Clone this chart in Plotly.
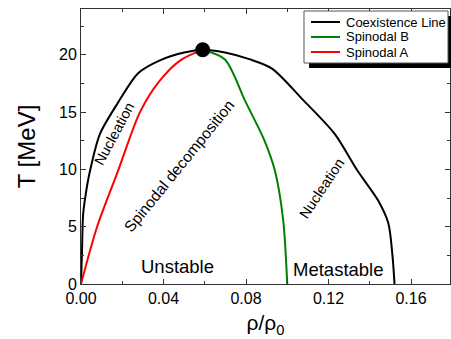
import plotly.graph_objects as go

# Coexistence line
coex_x = [0.0, 0.0005, 0.001, 0.002, 0.0044, 0.0092, 0.0175, 0.0277, 0.038, 0.050, 0.059,
          0.0698, 0.082, 0.0926, 0.108, 0.123, 0.134, 0.144, 0.149, 0.151, 0.152]
coex_T = [0.0, 3.0, 6.0, 7.5, 9.9, 13.1, 15.7, 18.4, 19.5, 20.2, 20.45,
          20.2, 19.6, 18.8, 16.0, 13.1, 9.9, 7.3, 5.3, 2.5, 0.0]
# Spinodal B
spB_x = [0.059, 0.0698, 0.0795, 0.089, 0.094, 0.098, 0.100]
spB_T = [20.45, 19.6, 16.0, 12.5, 9.9, 5.6, 0.0]
# Spinodal A
spA_x = [0.0, 0.0078, 0.018, 0.0286, 0.038, 0.048, 0.059]
spA_T = [0.0, 5.0, 9.9, 15.0, 17.7, 19.5, 20.45]
# Critical point
crit_x = [0.059]
crit_T = [20.45]

series_names = ["Coexistence Line", "Spinodal B", "Spinodal A"]
series_colors = ["black", "#008000", "red"]

FONT = "Liberation Sans, Arial, sans-serif"

fig = go.Figure()
for xs, ys, nm, col in zip([coex_x, spB_x, spA_x], [coex_T, spB_T, spA_T],
                           series_names, series_colors):
    fig.add_trace(go.Scatter(x=xs, y=ys, mode="lines", name=nm, showlegend=False,
                             line=dict(color=col, width=2, shape="spline", smoothing=0.8)))
fig.add_trace(go.Scatter(x=crit_x, y=crit_T, mode="markers", showlegend=False,
                         marker=dict(color="black", size=15)))

annos = [
    dict(x=0.0160, y=13.1, text="Nucleation", textangle=-62, size=14.5),
    dict(x=0.0478, y=10.3, text="Spinodal decomposition", textangle=-51, size=15.5),
    dict(x=0.1168, y=8.4, text="Nucleation", textangle=-56.5, size=14.5),
    dict(x=0.0470, y=1.5, text="Unstable", textangle=0, size=18.5),
    dict(x=0.1246, y=1.3, text="Metastable", textangle=0, size=18.5),
]
for a in annos:
    fig.add_annotation(x=a["x"], y=a["y"], text=a["text"], textangle=a["textangle"],
                       showarrow=False, font=dict(family=FONT, size=a["size"], color="black"))

# legend drawn manually (box with drop shadow, as in the reference)
fig.add_shape(type="rect", xref="paper", yref="paper", x0=0.618, x1=1.01, y0=0.7855, y1=0.9745,
              fillcolor="black", line=dict(width=0), layer="above")
fig.add_shape(type="rect", xref="paper", yref="paper", x0=0.6043, x1=0.9946, y0=0.8036, y1=0.9927,
              fillcolor="white", line=dict(color="#555", width=1), layer="above")
row_y = [0.9527, 0.8982, 0.8436]
for ry, nm, col in zip(row_y, series_names, series_colors):
    fig.add_shape(type="line", xref="paper", yref="paper", x0=0.6233, x1=0.7019, y0=ry, y1=ry,
                  line=dict(color=col, width=2), layer="above")
    fig.add_annotation(xref="paper", yref="paper", x=0.7127, y=ry, text=nm, showarrow=False,
                       xanchor="left", yanchor="middle",
                       font=dict(family=FONT, size=13, color="black"))

axis_common = dict(showline=True, linecolor="#333", linewidth=1, mirror="ticks",
                   ticks="inside", ticklen=5, tickcolor="#333", showgrid=False, zeroline=False,
                   tickfont=dict(family=FONT, size=16, color="black"))

fig.update_xaxes(range=[0, 0.1789], dtick=0.04, tick0=0, tickformat=".2f",
                 minor=dict(dtick=0.02, ticks="inside", ticklen=3, tickcolor="#333"),
                 title=dict(text="ρ/ρ<sub>0</sub>", font=dict(family=FONT, size=21, color="black"),
                            standoff=9),
                 **axis_common)
fig.update_yaxes(range=[0, 24], dtick=5, tick0=0,
                 minor=dict(dtick=2.5, ticks="inside", ticklen=3, tickcolor="#333"),
                 title=dict(text="T [MeV]", font=dict(family=FONT, size=24, color="black"),
                            standoff=16),
                 **axis_common)

fig.update_layout(
    width=451, height=339,
    margin=dict(l=81, r=1, t=9, b=55),
    plot_bgcolor="white", paper_bgcolor="white",
    font=dict(family=FONT, color="black"),
    showlegend=False,
)

fig.write_html("out.html")
